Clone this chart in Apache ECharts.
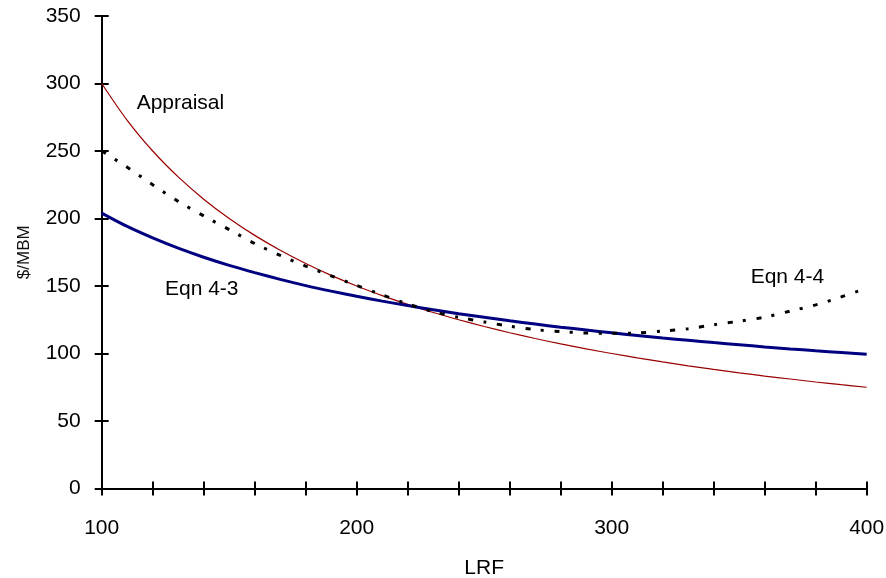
<!DOCTYPE html>
<html>
<head>
<meta charset="utf-8">
<script src="https://cdn.jsdelivr.net/npm/echarts@6/dist/echarts.min.js"></script>
<style>
html,body{margin:0;padding:0;background:#fff;}
#chart{width:886px;height:578px;}
</style>
</head>
<body>
<div id="chart"></div>
<script>
// LRF values (x)
const lrf = [100,110,120,130,140,150,160,170,180,190,200,210,220,230,240,250,260,270,280,290,300,310,320,330,340,350,360,370,380,390,400];
// Appraisal ($/MBM)
const appraisal = [300,272.7,250,230.8,214.3,200,187.5,176.5,166.7,157.9,150,142.9,136.4,130.4,125,120,115.4,111.1,107.1,103.4,100,96.8,93.8,90.9,88.2,85.7,83.3,81.1,78.9,76.9,75];
// Eqn 4-3 ($/MBM)
const eqn43 = [204,194.1,185.6,178.0,171.3,165.3,159.9,154.9,150.3,146.2,142.4,138.8,135.5,132.4,129.5,126.8,124.2,121.8,119.5,117.4,115.3,113.4,111.5,109.8,108.1,106.5,104.9,103.4,102.0,100.7,99.4];
// Eqn 4-4 ($/MBM)
const eqn44 = [250,238,225,212.7,201.9,191.8,181.5,172.7,164.8,157.5,150.4,143.4,136.7,131.0,126.8,123.4,120.2,117.7,116.2,115.2,115.0,115.2,116.6,118.3,121.3,123.9,126.9,131.4,136.0,141.9,148.5];
// Curve annotations [LRF, $/MBM, text]
const curveLabels = [[113.7,285.6,'Appraisal'],[124.8,147.3,'Eqn 4-3'],[354.5,156.3,'Eqn 4-4']];
// Axis settings
const xMin = 100, xMax = 400, xTickStep = 20, xLabelStep = 100;
const yMin = 0, yMax = 350, yStep = 50;

const FONT = "'Liberation Sans', Arial, sans-serif";
const FS = 21;
const chart = echarts.init(document.getElementById('chart'), null, {renderer:'canvas'});

function pairs(ys){ return lrf.map((x,i)=>[x, ys[i]]); }

const option = {
  animation: false,
  backgroundColor: '#ffffff',
  grid: {left: 101.7, right: 19.3, top: 16, bottom: 89.5, containLabel: false, outerBoundsMode: 'none'},
  xAxis: [{
    type: 'value', min: xMin, max: xMax, interval: xTickStep, position: 'bottom',
    name: 'LRF', nameLocation: 'middle', nameGap: 69,
    nameTextStyle: {fontFamily: FONT, fontSize: FS, color: '#000'},
    axisLine: {show: true, onZero: false, lineStyle: {color: '#000', width: 2}},
    axisTick: {show: true, inside: false, length: 7, lineStyle: {color: '#000', width: 2}},
    axisLabel: {show: true, margin: 29, fontFamily: FONT, fontSize: FS, color: '#000',
      showMinLabel: true, showMaxLabel: true, hideOverlap: false,
      formatter: v => (v % xLabelStep === 0 ? String(v) : '')},
    splitLine: {show: false}
  },{
    type: 'value', min: xMin, max: xMax, interval: xTickStep, position: 'bottom', offset: 0,
    axisLine: {show: false},
    axisTick: {show: true, inside: true, length: 7, lineStyle: {color: '#000', width: 2}},
    axisLabel: {show: false},
    splitLine: {show: false}
  }],
  yAxis: [{
    type: 'value', min: yMin, max: yMax, interval: yStep, position: 'left',
    name: '$/MBM', nameLocation: 'middle', nameGap: 69, nameRotate: 90,
    nameTextStyle: {fontFamily: "'Liberation Sans Narrow', " + FONT, fontSize: 17, color: '#111'},
    axisLine: {show: true, onZero: false, lineStyle: {color: '#000', width: 2}},
    axisTick: {show: true, inside: false, length: 7, lineStyle: {color: '#000', width: 2}},
    axisLabel: {show: true, margin: 21, fontFamily: FONT, fontSize: FS, color: '#000',
      showMinLabel: true, showMaxLabel: true},
    splitLine: {show: false}
  },{
    type: 'value', min: yMin, max: yMax, interval: yStep, position: 'left', offset: 0,
    axisLine: {show: false},
    axisTick: {show: true, inside: true, length: 7, lineStyle: {color: '#000', width: 2}},
    axisLabel: {show: false},
    splitLine: {show: false}
  }],
  series: [
    {
      name: 'Appraisal', type: 'line', data: pairs(appraisal), xAxisIndex: 0, yAxisIndex: 0,
      showSymbol: false, symbol: 'none', smooth: 0.3,
      lineStyle: {color: '#990000', width: 1.2}, z: 3
    },
    {
      name: 'Eqn 4-3', type: 'line', data: pairs(eqn43), xAxisIndex: 0, yAxisIndex: 0,
      showSymbol: false, symbol: 'none', smooth: 0.3,
      lineStyle: {color: '#000080', width: 3}, z: 4
    },
    {
      name: 'Eqn 4-4', type: 'line', data: pairs(eqn44), xAxisIndex: 0, yAxisIndex: 0,
      showSymbol: false, symbol: 'none', smooth: 0.3,
      lineStyle: {color: '#000000', width: 3, type: [5, 10.5, 3, 10.5], cap: 'butt'}, z: 5
    },
    {
      name: 'labels', type: 'scatter', xAxisIndex: 0, yAxisIndex: 0,
      data: curveLabels.map(d => ({value: [d[0], d[1]], name: d[2]})),
      symbolSize: 0, silent: true,
      label: {show: true, position: 'right', distance: 0, formatter: p => p.name,
        fontFamily: FONT, fontSize: FS, color: '#000', opacity: 1, textBorderWidth: 0}
    }
  ]
};
chart.setOption(option);
</script>
</body>
</html>
